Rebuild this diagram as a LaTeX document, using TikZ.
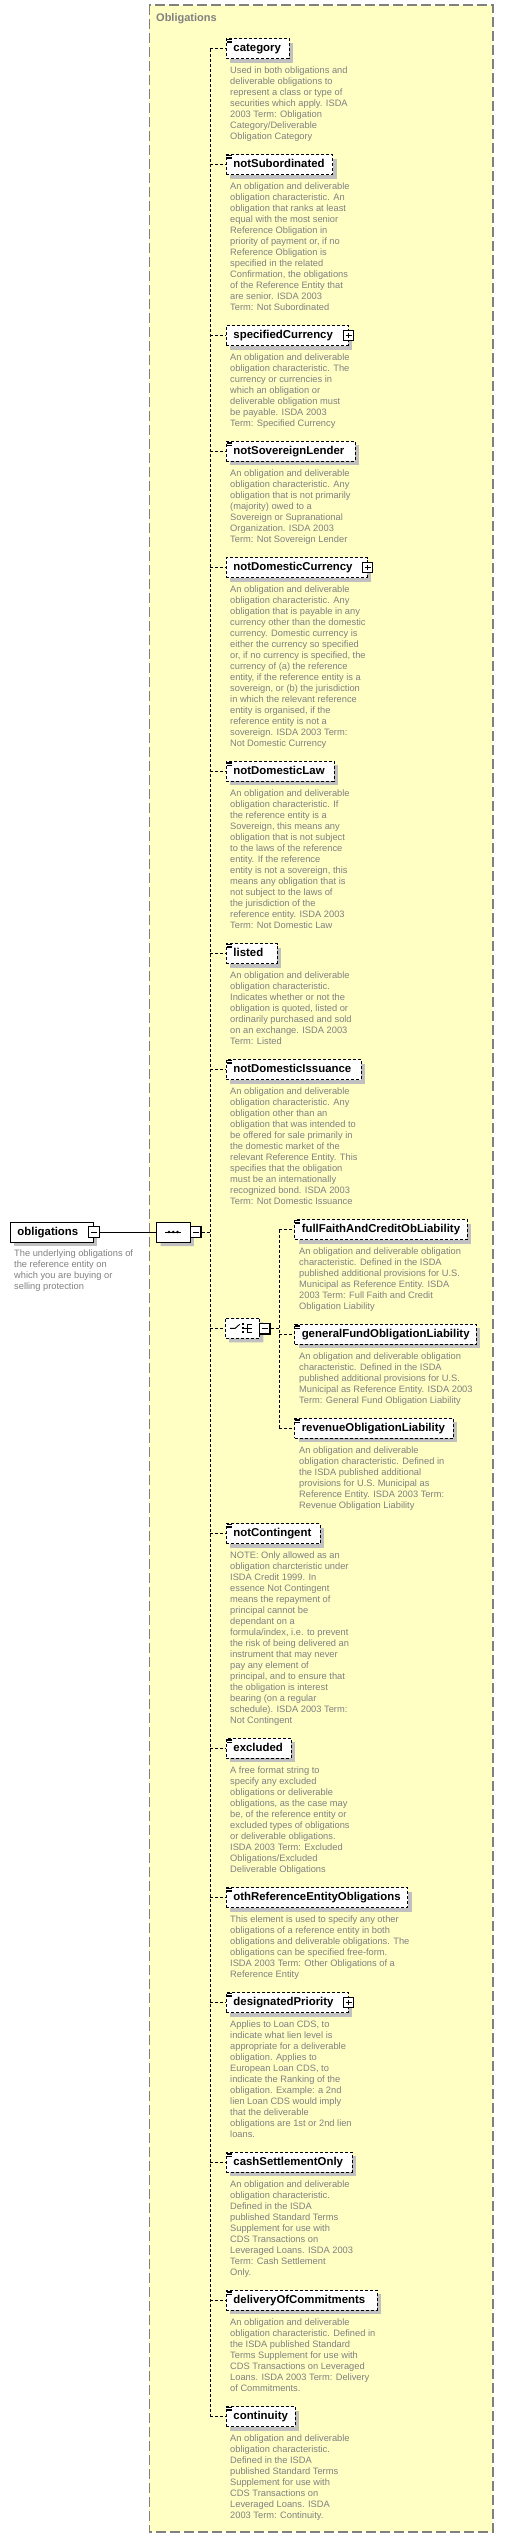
\documentclass[tikz,border=0pt]{standalone}
\usepackage{fontspec}
\setmainfont{Liberation Sans}
\usetikzlibrary{shapes.misc,shadows,calc}
\hyphenpenalty=10000
\exhyphenpenalty=10000
\definecolor{bgyellow}{RGB}{255,255,196}
\definecolor{framegray}{RGB}{128,128,128}
\definecolor{txtgray}{RGB}{128,128,128}
\definecolor{shadowgray}{RGB}{192,192,192}
\newcommand\dstrut{\rule{0pt}{7.5pt}}
\tikzset{
  boxshadow/.style={general shadow={fill=shadowgray, shadow xshift=4pt, shadow yshift=-4pt}},
  elem/.style={draw, fill=white, line width=0.9pt, dash pattern=on 3pt off 2pt, minimum height=20pt,
    inner xsep=7pt, inner ysep=0pt, anchor=west, align=left,
    font=\bfseries\fontsize{11.4}{13}\selectfont, text height=8.5pt, text depth=2.5pt, boxshadow},
  desc/.style={anchor=north west, inner sep=0pt, align=left, text=txtgray, font=\fontsize{9.3}{11}\selectfont},
  conn/.style={line width=0.9pt, dash pattern=on 3pt off 2pt},
  iconline/.style={line width=0.8pt},
  pm/.style={draw, fill=white, line width=1.2pt, minimum size=10.5pt, inner sep=0pt},
  plusbox/.style={pm, path picture={\draw[line width=1pt]
      ([xshift=2.3pt]path picture bounding box.west) -- ([xshift=-2.3pt]path picture bounding box.east)
      ([yshift=-2.3pt]path picture bounding box.north) -- ([yshift=2.3pt]path picture bounding box.south);}},
  minusbox/.style={pm, path picture={\draw[line width=1pt]
      ([xshift=2.3pt]path picture bounding box.west) -- ([xshift=-2.3pt]path picture bounding box.east);}},
  compositor/.style={chamfered rectangle, chamfered rectangle xsep=6pt, draw, fill=white, line width=0.9pt,
    minimum height=20pt, inner sep=0pt, boxshadow},
}
\begin{document}
\begin{tikzpicture}[x=1pt,y=-1pt]
\useasboundingbox (0,0) rectangle (504,2538);
% container
\draw[framegray, fill=bgyellow, line width=1.2pt, dash pattern=on 10pt off 4pt] (149.3,5) rectangle (493,2532);
\node[anchor=west, inner sep=0pt, text=framegray, font=\bfseries\fontsize{11}{13}\selectfont] (title) at (156,19) {Obligations};

% root element
\node[elem, solid, text width=69pt] (ob) at (10,1232) {obligations};
\node[minusbox] (obm) at (ob.east) {};
\node[desc] (d0) at (14,1249) {\dstrut The underlying obligations of\\the reference entity on\\which you are buying or\\selling protection};

% sequence compositor
\node[compositor, minimum width=33.3pt] (seq) at (173.3,1232) {};
\draw[line width=0.9pt] ($(seq.center)+(-8,0)$) -- ($(seq.center)+(8,0)$);
\foreach \dx in {-4.3,0,4.3} \fill ($(seq.center)+(\dx,0)$) circle (1.4pt);
\node[minusbox] (seqm) at (195.7,1232) {};

\coordinate (spine) at (210.3,0);
\coordinate (spine2) at (279.3,0);

% elements
\node[elem, text width=48.7pt] (e1) at (226,48.5) {category};
\node[desc] (d1) at (230,65.7) {\dstrut Used in both obligations and\\deliverable obligations to\\represent a class or type of\\securities which apply. ISDA\\2003 Term: Obligation\\Category/Deliverable\\Obligation Category};

\node[elem, text width=92.3pt] (e2) at (226,164.5) {notSubordinated};
\node[desc] (d2) at (230,181.7) {\dstrut An obligation and deliverable\\obligation characteristic. An\\obligation that ranks at least\\equal with the most senior\\Reference Obligation in\\priority of payment or, if no\\Reference Obligation is\\specified in the related\\Confirmation, the obligations\\of the Reference Entity that\\are senior. ISDA 2003\\Term: Not Subordinated};

\node[elem, text width=107.7pt] (e3) at (226,335.5) {specifiedCurrency};
\node[plusbox] (e3p) at (e3.east) {};
\node[desc] (d3) at (230,352.7) {\dstrut An obligation and deliverable\\obligation characteristic. The\\currency or currencies in\\which an obligation or\\deliverable obligation must\\be payable. ISDA 2003\\Term: Specified Currency};

\node[elem, text width=114.7pt] (e4) at (226,451.3) {notSovereignLender};
\node[desc] (d4) at (230,468.7) {\dstrut An obligation and deliverable\\obligation characteristic. Any\\obligation that is not primarily\\(majority) owed to a\\Sovereign or Supranational\\Organization. ISDA 2003\\Term: Not Sovereign Lender};

\node[elem, text width=126.7pt] (e5) at (226,567.5) {notDomesticCurrency};
\node[plusbox] (e5p) at (e5.east) {};
\node[desc] (d5) at (230,584.7) {\dstrut An obligation and deliverable\\obligation characteristic. Any\\obligation that is payable in any\\currency other than the domestic\\currency. Domestic currency is\\either the currency so specified\\or, if no currency is specified, the\\currency of (a) the reference\\entity, if the reference entity is a\\sovereign, or (b) the jurisdiction\\in which the relevant reference\\entity is organised, if the\\reference entity is not a\\sovereign. ISDA 2003 Term:\\Not Domestic Currency};

\node[elem, text width=93.7pt] (e6) at (226,771.3) {notDomesticLaw};
\node[desc] (d6) at (230,788.7) {\dstrut An obligation and deliverable\\obligation characteristic. If\\the reference entity is a\\Sovereign, this means any\\obligation that is not subject\\to the laws of the reference\\entity. If the reference\\entity is not a sovereign, this\\means any obligation that is\\not subject to the laws of\\the jurisdiction of the\\reference entity. ISDA 2003\\Term: Not Domestic Law};

\node[elem, text width=36.7pt] (e7) at (226,953.5) {listed};
\node[desc] (d7) at (230,970.7) {\dstrut An obligation and deliverable\\obligation characteristic.\\Indicates whether or not the\\obligation is quoted, listed or\\ordinarily purchased and sold\\on an exchange. ISDA 2003\\Term: Listed};

\node[elem, text width=120.7pt] (e8) at (226,1069.5) {notDomesticIssuance};
\node[desc] (d8) at (230,1086.7) {\dstrut An obligation and deliverable\\obligation characteristic. Any\\obligation other than an\\obligation that was intended to\\be offered for sale primarily in\\the domestic market of the\\relevant Reference Entity. This\\specifies that the obligation\\must be an internationally\\recognized bond. ISDA 2003\\Term: Not Domestic Issuance};

% choice compositor
\node[compositor, dash pattern=on 3pt off 2pt, minimum width=34.3pt] (choice) at (242.2,1328.3) {};
\draw[line width=0.9pt] ($(choice.center)+(-12,0)$) -- ($(choice.center)+(-7,0)$) -- ($(choice.center)+(-2.5,-4)$);
\foreach \dy in {-4,0,4} \fill ($(choice.center)+(-0.3,\dy-1.1)$) rectangle ($(choice.center)+(1.9,\dy+1.1)$);
\draw[line width=0.9pt] ($(choice.center)+(5,-4)$) -- ($(choice.center)+(5,4)$)
  ($(choice.center)+(5,-4)$) -- ($(choice.center)+(10,-4)$)
  ($(choice.center)+(1.9,0)$) -- ($(choice.center)+(10,0)$)
  ($(choice.center)+(5,4)$) -- ($(choice.center)+(10,4)$);
\node[minusbox] (chm) at (264.7,1328.7) {};

\node[elem, text width=158.4pt] (c1) at (294.3,1229.5) {fullFaithAndCreditObLiability};
\node[desc] (dc1) at (299,1246.7) {\dstrut An obligation and deliverable obligation\\characteristic. Defined in the ISDA\\published additional provisions for U.S.\\Municipal as Reference Entity. ISDA\\2003 Term: Full Faith and Credit\\Obligation Liability};

\node[elem, text width=167.4pt] (c2) at (294.3,1334.2) {generalFundObligationLiability};
\node[desc] (dc2) at (299,1351.7) {\dstrut An obligation and deliverable obligation\\characteristic. Defined in the ISDA\\published additional provisions for U.S.\\Municipal as Reference Entity. ISDA 2003\\Term: General Fund Obligation Liability};

\node[elem, text width=144.4pt] (c3) at (294.3,1428.3) {revenueObligationLiability};
\node[desc] (dc3) at (299,1445.7) {\dstrut An obligation and deliverable\\obligation characteristic. Defined in\\the ISDA published additional\\provisions for U.S. Municipal as\\Reference Entity. ISDA 2003 Term:\\Revenue Obligation Liability};

\node[elem, text width=80pt] (e12) at (226,1533.5) {notContingent};
\node[desc] (d12) at (230,1550.7) {\dstrut NOTE: Only allowed as an\\obligation charcteristic under\\ISDA Credit 1999. In\\essence Not Contingent\\means the repayment of\\principal cannot be\\dependant on a\\formula/index, i.e. to prevent\\the risk of being delivered an\\instrument that may never\\pay any element of\\principal, and to ensure that\\the obligation is interest\\bearing (on a regular\\schedule). ISDA 2003 Term:\\Not Contingent};

\node[elem, text width=50.7pt] (e13) at (226,1748.3) {excluded};
\node[desc] (d13) at (230,1765.7) {\dstrut A free format string to\\specify any excluded\\obligations or deliverable\\obligations, as the case may\\be, of the reference entity or\\excluded types of obligations\\or deliverable obligations.\\ISDA 2003 Term: Excluded\\Obligations/Excluded\\Deliverable Obligations};

\node[elem, text width=167.3pt] (e14) at (226,1897.5) {othReferenceEntityObligations};
\node[desc] (d14) at (230,1914.7) {\dstrut This element is used to specify any other\\obligations of a reference entity in both\\obligations and deliverable obligations. The\\obligations can be specified free-form.\\ISDA 2003 Term: Other Obligations of a\\Reference Entity};

\node[elem, text width=107.7pt] (e15) at (226,2002.5) {designatedPriority};
\node[plusbox] (e15p) at (e15.east) {};
\node[desc] (d15) at (230,2019.7) {\dstrut Applies to Loan CDS, to\\indicate what lien level is\\appropriate for a deliverable\\obligation. Applies to\\European Loan CDS, to\\indicate the Ranking of the\\obligation. Example: a 2nd\\lien Loan CDS would imply\\that the deliverable\\obligations are 1st or 2nd lien\\loans.};

\node[elem, text width=111.7pt] (e16) at (226,2162.3) {cashSettlementOnly};
\node[desc] (d16) at (230,2179.3) {\dstrut An obligation and deliverable\\obligation characteristic.\\Defined in the ISDA\\published Standard Terms\\Supplement for use with\\CDS Transactions on\\Leveraged Loans. ISDA 2003\\Term: Cash Settlement\\Only.};

\node[elem, text width=136.7pt] (e17) at (226,2300.2) {deliveryOfCommitments};
\node[desc] (d17) at (230,2317.7) {\dstrut An obligation and deliverable\\obligation characteristic. Defined in\\the ISDA published Standard\\Terms Supplement for use with\\CDS Transactions on Leveraged\\Loans. ISDA 2003 Term: Delivery\\of Commitments.};

\node[elem, text width=54.7pt] (e18) at (226,2416.5) {continuity};
\node[desc] (d18) at (230,2433.3) {\dstrut An obligation and deliverable\\obligation characteristic.\\Defined in the ISDA\\published Standard Terms\\Supplement for use with\\CDS Transactions on\\Leveraged Loans. ISDA\\2003 Term: Continuity.};

% simple-content icons
\foreach \n in {e1,e2,e4,e6,e7,e8,c1,c2,c3,e12,e13,e14,e15,e16,e17,e18}{
  \foreach \dy in {1.4,3.0,4.6}
    \draw[iconline] ([xshift=1pt,yshift=-\dy pt]\n.north west) -- ++(4.8pt,0pt);
}

% connectors
\draw (obm.east) -- (seq.west);
\draw[conn] (seqm.east) -- (seqm.east -| spine);
\draw[conn] (e1.west -| spine) -- (e18.west -| spine);
\foreach \n in {e1,e2,e3,e4,e5,e6,e7,e8,e12,e13,e14,e15,e16,e17,e18}
  \draw[conn] (\n.west -| spine) -- (\n.west);
\draw[conn] (choice.west -| spine) -- (choice.west);
\draw[conn] (chm.east) -- (chm.east -| spine2);
\draw[conn] (c1.west -| spine2) -- (c3.west -| spine2);
\foreach \n in {c1,c2,c3}
  \draw[conn] (\n.west -| spine2) -- (\n.west);
\end{tikzpicture}
\end{document}
